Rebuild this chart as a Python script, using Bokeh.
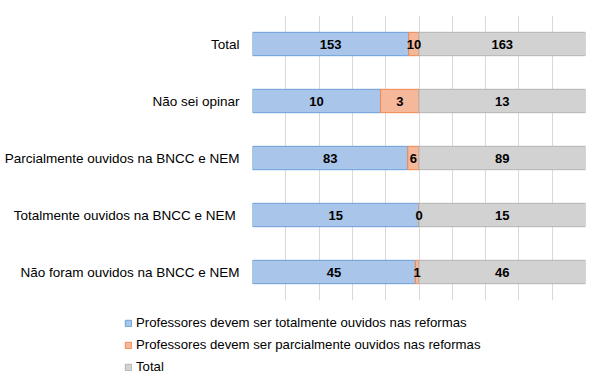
from bokeh.plotting import figure
from bokeh.models import ColumnDataSource, FactorRange, Range1d, FixedTicker, Legend, LegendItem
from bokeh.layouts import column, row
from bokeh.embed import file_html
from bokeh.resources import INLINE
from bokeh.core.properties import value

categories = [
    "Total",
    "Não sei opinar",
    "Parcialmente ouvidos na BNCC e NEM",
    "Totalmente  ouvidos na BNCC e NEM",
    "Não foram ouvidos na BNCC e NEM",
]
totalmente = [153, 10, 83, 15, 45]
parcialmente = [10, 3, 6, 0, 1]
total = [163, 13, 89, 15, 46]
series_names = [
    "Professores devem ser totalmente ouvidos nas reformas",
    "Professores devem ser parcialmente ouvidos nas reformas",
    "Total",
]
grid_ticks = [0.0, 0.1, 0.2, 0.3, 0.4, 0.5, 0.6, 0.7, 0.8, 0.9, 1.0]

# 100% stacked shares
sums = [a + b + c for a, b, c in zip(totalmente, parcialmente, total)]
s0 = [a / s for a, s in zip(totalmente, sums)]
s1 = [b / s for b, s in zip(parcialmente, sums)]
s2 = [c / s for c, s in zip(total, sums)]
l0 = [0.0] * len(categories)
r0 = s0
l1 = r0
r1 = [a + b for a, b in zip(r0, s1)]
l2 = r1
r2 = [a + b for a, b in zip(r1, s2)]

src = ColumnDataSource(dict(
    cat=categories,
    l0=l0, r0=r0, l1=l1, r1=r1, l2=l2, r2=r2,
    c0=[(a + b) / 2 for a, b in zip(l0, r0)],
    c1=[(a + b) / 2 for a, b in zip(l1, r1)],
    c2=[(a + b) / 2 for a, b in zip(l2, r2)],
    t0=[str(v) for v in totalmente],
    t1=[str(v) for v in parcialmente],
    t2=[str(v) for v in total],
))

FONT = "Liberation Sans"
fills = ["#A9C5EA", "#F6B89B", "#D2D2D2"]
lines = ["#6B9FD8", "#EE8A50", "#B4B4B4"]
W = 586

p = figure(
    width=W, height=308,
    y_range=FactorRange(factors=categories[::-1]),
    x_range=Range1d(0, 1),
    output_backend="svg", toolbar_location=None,
    min_border_left=252, min_border_right=1,
    min_border_top=15, min_border_bottom=8,
)
p.outline_line_color = None
p.background_fill_color = "white"
p.border_fill_color = "white"

p.xaxis.visible = False
p.xgrid.ticker = FixedTicker(ticks=grid_ticks)
p.xgrid.grid_line_color = "#D9D9D9"
p.xgrid.grid_line_width = 1
p.ygrid.grid_line_color = None

p.yaxis.axis_line_color = None
p.yaxis.major_tick_line_color = None
p.yaxis.minor_tick_line_color = None
p.yaxis.major_tick_out = 0
p.yaxis.major_label_standoff = 13
p.yaxis.major_label_text_font = FONT
p.yaxis.major_label_text_font_size = "13.5px"
p.yaxis.major_label_text_color = "#000000"

bh = 0.41
for i in range(3):
    p.hbar(y="cat", left=f"l{i}", right=f"r{i}", height=bh, source=src,
           fill_color=fills[i], line_color=lines[i], line_width=1)

for i in range(3):
    p.text(x=f"c{i}", y="cat", text=f"t{i}", source=src,
           text_align="center", text_baseline="middle",
           text_font=value(FONT), text_font_style="bold",
           text_font_size="13px", text_color="#000000")

# legend panel below the chart (own figure, frame spanning full width);
# its bars use the same data but lie outside its visible x range
q = figure(
    width=W, height=66,
    x_range=Range1d(-3, -2), y_range=FactorRange(factors=categories[::-1]),
    output_backend="svg", toolbar_location=None,
    min_border_left=0, min_border_right=0, min_border_top=0, min_border_bottom=0,
)
q.axis.visible = False
q.grid.visible = False
q.outline_line_color = None
q.border_fill_color = "white"
q.background_fill_color = "white"
rs = []
for i in range(3):
    rs.append(q.hbar(y="cat", left=f"l{i}", right=f"r{i}", height=bh, source=src,
                     fill_color=fills[i], line_color=lines[i], line_width=1))

legend = Legend(
    items=[LegendItem(label=series_names[i], renderers=[rs[i]]) for i in range(3)],
    location=(124, 0), orientation="vertical",
    glyph_width=8, glyph_height=8, label_standoff=4, spacing=7,
    label_height=14, padding=0, margin=0,
    border_line_color=None, background_fill_alpha=0,
    label_text_font=FONT, label_text_font_size="13.2px",
    label_text_color="#000000",
)
q.add_layout(legend, "center")

layout = column(p, row(q), spacing=0)
open("out.html", "w").write(file_html(layout, INLINE))
